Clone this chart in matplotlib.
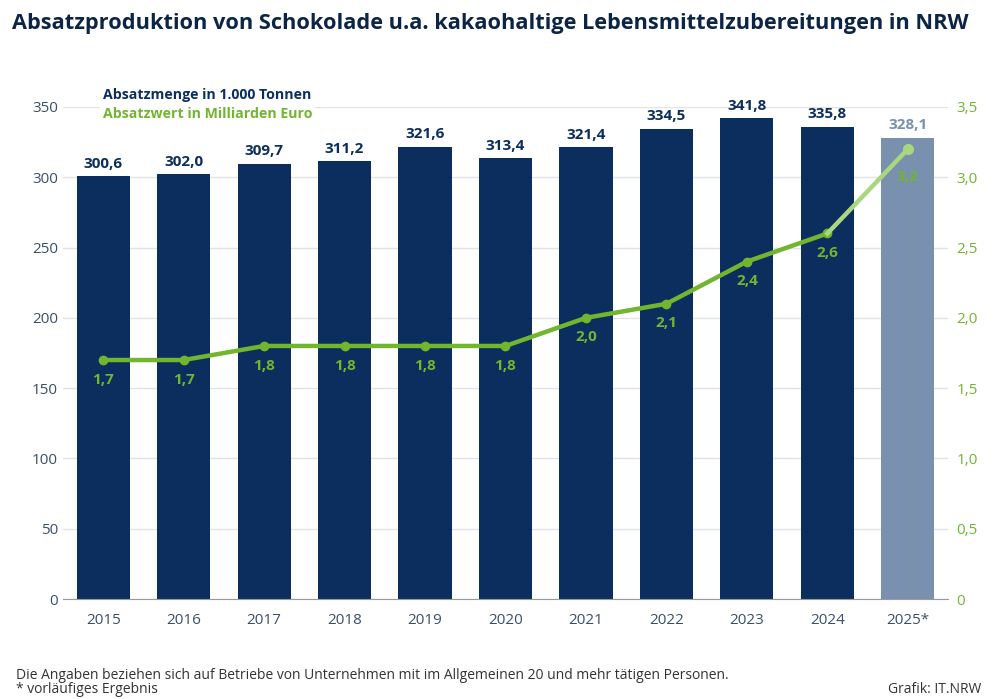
import matplotlib.pyplot as plt

years = ["2015", "2016", "2017", "2018", "2019", "2020", "2021", "2022", "2023", "2024", "2025*"]
menge = [300.6, 302.0, 309.7, 311.2, 321.6, 313.4, 321.4, 334.5, 341.8, 335.8, 328.1]
wert = [1.7, 1.7, 1.8, 1.8, 1.8, 1.8, 2.0, 2.1, 2.4, 2.6, 3.2]

NAVY = "#0C2E5F"
PRELIM = "#7990AE"
GREEN = "#72B52E"
LIGHT_GREEN = "#A9D77F"
TICK = "#3B4F6B"


def de(v):
    if v == 0:
        return "0"
    return f"{v:.1f}".replace(".", ",")


plt.rcParams["font.family"] = ["Open Sans", "DejaVu Sans"]

fig = plt.figure(figsize=(9.99, 6.99), dpi=100)
ax = fig.add_axes([0.063, 0.143, 0.886, 0.704])
ax2 = ax.twinx()

x = list(range(len(years)))
colors = [NAVY] * (len(years) - 1) + [PRELIM]
ax.bar(x, menge, width=0.66, color=colors, zorder=2)
for i, v in enumerate(menge):
    ax.text(i, v + 4, de(v), ha="center", va="bottom", fontsize=11,
            fontweight="bold", color=colors[i])

ax.set_xlim(-0.5, len(years) - 0.5)
ax.set_ylim(0, 350)
ax.set_yticks(range(0, 351, 50))
ax.set_xticks(x)
ax.set_xticklabels(years)
ax.grid(axis="y", color="#E3E3E3", linewidth=1, zorder=0)
ax.set_axisbelow(True)
for s in ax.spines.values():
    s.set_visible(False)
ax.spines["bottom"].set_visible(True)
ax.spines["bottom"].set_color("#9A9A9A")
ax.tick_params(axis="both", length=0, labelsize=11, labelcolor=TICK)
ax.tick_params(axis="x", pad=10)

ax2.set_ylim(0, 3.5)
ax2.set_yticks([i * 0.5 for i in range(8)])
ax2.set_yticklabels([de(i * 0.5) for i in range(8)])
for s in ax2.spines.values():
    s.set_visible(False)
ax2.tick_params(axis="y", length=0, labelsize=11, labelcolor=GREEN, pad=6)

ax2.plot(x[:-1], wert[:-1], color=GREEN, linewidth=3.2, marker="o", markersize=6, zorder=3)
ax2.plot(x[-2:], wert[-2:], color=LIGHT_GREEN, linewidth=3.2, zorder=3)
ax2.plot(x[-1], wert[-1], "o", color=LIGHT_GREEN, markersize=7, zorder=4)
for i, v in enumerate(wert):
    off = 0.15 if i == len(wert) - 1 else 0.09
    ax2.text(i, v - off, de(v), ha="center", va="top", fontsize=11,
             fontweight="bold", color=GREEN, zorder=5)

fig.text(0.103, 0.864, "Absatzmenge in 1.000 Tonnen", fontsize=10.2, fontweight="bold",
         color=NAVY, ha="left", va="center",
         bbox=dict(facecolor="white", edgecolor="none", pad=2))
fig.text(0.103, 0.837, "Absatzwert in Milliarden Euro", fontsize=10.2, fontweight="bold",
         color=GREEN, ha="left", va="center",
         bbox=dict(facecolor="white", edgecolor="none", pad=2))

fig.text(0.012, 0.967, "Absatzproduktion von Schokolade u.a. kakaohaltige Lebensmittelzubereitungen in NRW",
         fontsize=15.7, fontweight="bold", color="#0C2446", ha="left", va="center")

fig.text(0.016, 0.034, "Die Angaben beziehen sich auf Betriebe von Unternehmen mit im Allgemeinen 20 und mehr tätigen Personen.",
         fontsize=10, color="#333333", ha="left", va="center")
fig.text(0.016, 0.014, "* vorläufiges Ergebnis", fontsize=10, color="#333333", ha="left", va="center")
fig.text(0.982, 0.014, "Grafik: IT.NRW", fontsize=10, color="#333333", ha="right", va="center")

fig.savefig("out.png", dpi=100)
